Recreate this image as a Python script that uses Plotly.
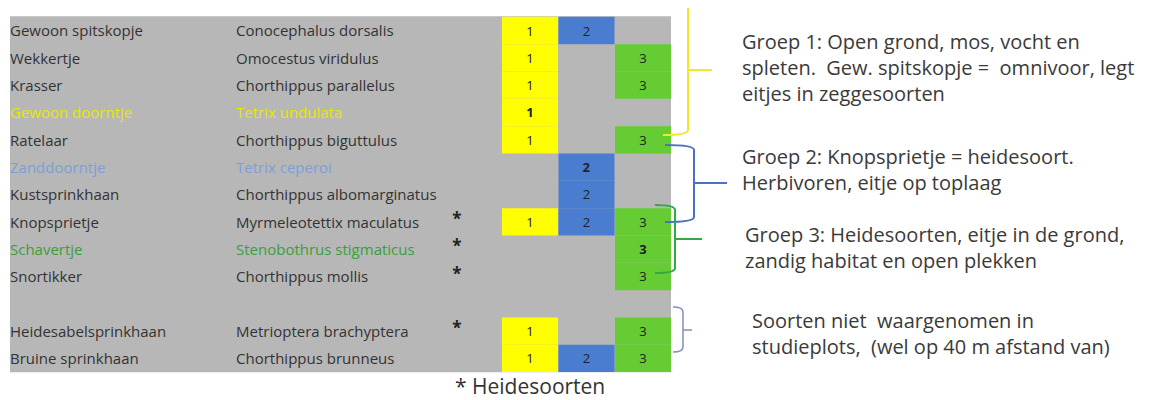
import plotly.graph_objects as go

# ---------------- data ----------------
dutch = ["Gewoon spitskopje", "Wekkertje", "Krasser", "Gewoon doorntje", "Ratelaar",
         "Zanddoorntje", "Kustsprinkhaan", "Knopsprietje", "Schavertje", "Snortikker",
         "", "Heidesabelsprinkhaan", "Bruine sprinkhaan"]
latin = ["Conocephalus dorsalis", "Omocestus viridulus", "Chorthippus parallelus",
         "Tetrix undulata", "Chorthippus biguttulus", "Tetrix ceperoi",
         "Chorthippus albomarginatus", "Myrmeleotettix maculatus",
         "Stenobothrus stigmaticus", "Chorthippus mollis", "",
         "Metrioptera brachyptera", "Chorthippus brunneus"]
groep1 = [1, 1, 1, 1, 1, 0, 0, 1, 0, 0, 0, 1, 1]
groep2 = [1, 0, 0, 0, 0, 1, 1, 1, 0, 0, 0, 0, 1]
groep3 = [0, 1, 1, 0, 1, 0, 0, 1, 1, 1, 0, 1, 1]
heide = [0, 0, 0, 0, 0, 0, 0, 1, 1, 1, 0, 1, 0]
highlight = ["", "", "", "yellow", "", "blue", "", "", "green", "", "", "", ""]
group_labels = ["1", "2", "3"]
notes = [
    ["Groep 1: Open grond, mos, vocht en",
     "spleten.  Gew. spitskopje =  omnivoor, legt",
     "eitjes in zeggesoorten"],
    ["Groep 2: Knopsprietje = heidesoort.",
     "Herbivoren, eitje op toplaag"],
    ["Groep 3: Heidesoorten, eitje in de grond,",
     "zandig habitat en open plekken"],
    ["Soorten niet  waargenomen in",
     "studieplots,  (wel op 40 m afstand van)"],
]

# ---------------- styling / layout ----------------
W, H = 1151, 400
OFF = 8  # page body margin
ROW0, PITCH = 30.5, 27.33
def row_y(r):
    return ROW0 + PITCH * r

GRAY = "#b7b7b7"
CELL_COLORS = ["#ffff00", "#4a7dd0", "#66cc33"]
COL_LEFT = [502, 558.5, 615]
COL_W = 56
TEXT_DARK = "#333333"
HL_COLORS = {"yellow": "#e8e800", "blue": "#7d9fd6", "green": "#3c9e3c", "": TEXT_DARK}
FONT = "Open Sans"

fig = go.Figure()

# gray table background
fig.add_shape(type="rect", x0=10, x1=671, y0=row_y(0) - PITCH / 2 - 0.5,
              y1=row_y(12) + PITCH / 2, fillcolor=GRAY, line_width=0, layer="below")

rows = list(range(len(dutch)))
for gi, flags in enumerate([groep1, groep2, groep3]):
    ys = [row_y(r) for r in rows if flags[r]]
    txt = [("<b>%s</b>" % group_labels[gi]) if highlight[r] else group_labels[gi]
           for r in rows if flags[r]]
    fig.add_trace(go.Bar(
        orientation="h", y=ys, x=[COL_W] * len(ys), base=COL_LEFT[gi],
        width=PITCH, marker=dict(color=CELL_COLORS[gi], line_width=0),
        text=txt, textposition="inside", insidetextanchor="middle",
        textangle=0, textfont=dict(family=FONT, size=13, color="#222222"),
        hoverinfo="skip", showlegend=False))

name_colors = [HL_COLORS[h] for h in highlight]
fig.add_trace(go.Scatter(
    x=[10] * len(rows), y=[row_y(r) + 2 for r in rows], mode="text",
    text=dutch, textposition="middle right",
    textfont=dict(family=FONT, size=15, color=name_colors),
    hoverinfo="skip", showlegend=False))
fig.add_trace(go.Scatter(
    x=[236] * len(rows), y=[row_y(r) + 2 for r in rows], mode="text",
    text=latin, textposition="middle right",
    textfont=dict(family=FONT, size=15, color=name_colors),
    hoverinfo="skip", showlegend=False))

# asterisks for heath species
hr = [r for r in rows if heide[r]]
fig.add_trace(go.Scatter(
    x=[457] * len(hr), y=[row_y(r) - 1 for r in hr], mode="text",
    text=["<b>*</b>"] * len(hr), textposition="middle center",
    textfont=dict(family=FONT, size=17, color="#222222"),
    hoverinfo="skip", showlegend=False))

# braces
def brace(color, xl, xv, y0, y1, ytick, xtick, width=2):
    path = (f"M {xl},{y0} Q {xv},{y0} {xv},{y0 + 5} L {xv},{y1 - 5} "
            f"Q {xv},{y1} {xl},{y1} M {xv},{ytick} L {xtick},{ytick}")
    fig.add_shape(type="path", path=path, line=dict(color=color, width=width))

# yellow (top part leaves the picture)
fig.add_shape(type="path",
              path="M 688,6 L 688,130 Q 688,135 663,135 M 688,70 L 712,70",
              line=dict(color="#f2e82a", width=2))
brace("#4a72c4", 665, 694, 145, 222, 183, 727)
brace("#35a845", 655, 675, 205, 273, 239, 702)
brace("#7f90c0", 673, 683, 307, 352, 330, 692, width=1.5)

# right-hand notes
note_pos = [(740, 41), (740, 156), (743, 234), (750, 320)]
for (x0, y0), lines in zip(note_pos, notes):
    for i, line in enumerate(lines):
        fig.add_annotation(x=x0, y=y0 + 26 * i, text=line, showarrow=False,
                           xanchor="left", yanchor="middle",
                           font=dict(family=FONT, size=20, color="#3a3a3a"))

fig.add_annotation(x=453, y=386, text="* Heidesoorten", showarrow=False,
                   xanchor="left", yanchor="middle",
                   font=dict(family=FONT, size=21, color="#333333"))

fig.update_layout(
    width=W, height=H, margin=dict(l=0, r=0, t=0, b=0),
    paper_bgcolor="white", plot_bgcolor="white", barmode="overlay",
    xaxis=dict(range=[OFF, W + OFF], visible=False, fixedrange=True),
    yaxis=dict(range=[H + OFF, OFF], visible=False, fixedrange=True),
    uniformtext=dict(minsize=10, mode="show"),
)
fig.write_html("out.html")
